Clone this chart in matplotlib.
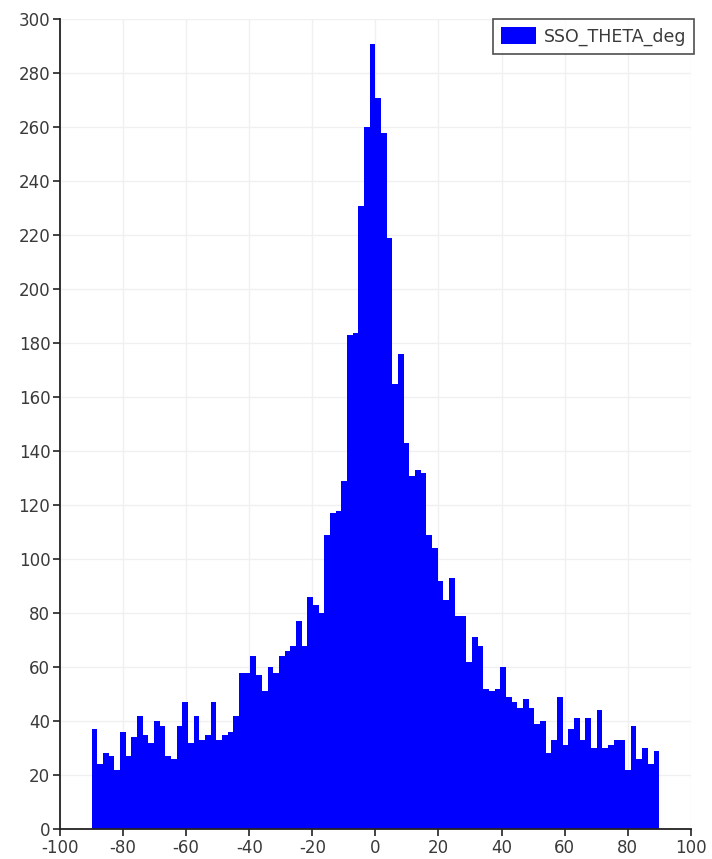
import numpy as np
import matplotlib
matplotlib.use('Agg')
import matplotlib.pyplot as plt

# histogram of the sun-sensor theta angle, 100 bins over -90..90 deg
bin_lo = -90.0
bin_hi = 90.0
n_bins = 100
counts = [37, 24, 28, 27, 22, 36, 27, 34, 42, 35,
          32, 40, 38, 27, 26, 38, 47, 32, 42, 33,
          35, 47, 33, 35, 36, 42, 58, 58, 64, 57,
          51, 60, 58, 64, 66, 68, 77, 68, 86, 83,
          80, 109, 117, 118, 129, 183, 184, 231, 260, 291,
          271, 258, 219, 165, 176, 143, 131, 133, 132, 109,
          104, 92, 85, 93, 79, 79, 62, 71, 68, 52,
          51, 52, 60, 49, 47, 45, 48, 45, 39, 40,
          28, 33, 49, 31, 37, 41, 33, 41, 30, 44,
          30, 31, 33, 33, 22, 38, 26, 30, 24, 29]
label = 'SSO_THETA_deg'

x_ticks = list(range(-100, 101, 20))
y_ticks = list(range(0, 301, 20))

edges = np.linspace(bin_lo, bin_hi, n_bins + 1)
centers = 0.5 * (edges[:-1] + edges[1:])

plt.rcParams['font.family'] = ['DejaVu Sans']
plt.rcParams['axes.unicode_minus'] = False

fig = plt.figure(figsize=(7.12, 8.59), dpi=100)
ax = fig.add_axes([0.0843, 0.0349, 0.8858, 0.9424])

ax.hist(centers, bins=edges, weights=counts, color='#0000ff',
        histtype='stepfilled', linewidth=0, label=label, zorder=2)

ax.set_xlim(-100, 100)
ax.set_ylim(0, 300)
ax.set_xticks(x_ticks)
ax.set_yticks(y_ticks)

ax.grid(True, color='#f0f0f0', linewidth=1.0, zorder=0)
ax.set_axisbelow(True)

for side in ['top', 'right']:
    ax.spines[side].set_visible(False)
for side in ['left', 'bottom']:
    ax.spines[side].set_color('#222222')
    ax.spines[side].set_linewidth(1.3)

ax.tick_params(axis='both', direction='out', length=5, width=1.2,
               color='#222222', labelsize=12, labelcolor='#3a3a3a', pad=2)

leg = ax.legend(loc='upper right', bbox_to_anchor=(1.005, 1.0),
                fontsize=12.5, frameon=True, fancybox=False,
                edgecolor='#222222', handlelength=2.0, handleheight=1.1,
                borderpad=0.45, handletextpad=0.45, borderaxespad=0.0)
leg.get_frame().set_linewidth(1.2)
for t in leg.get_texts():
    t.set_color('#3a3a3a')

plt.savefig('out.png', dpi=100)
